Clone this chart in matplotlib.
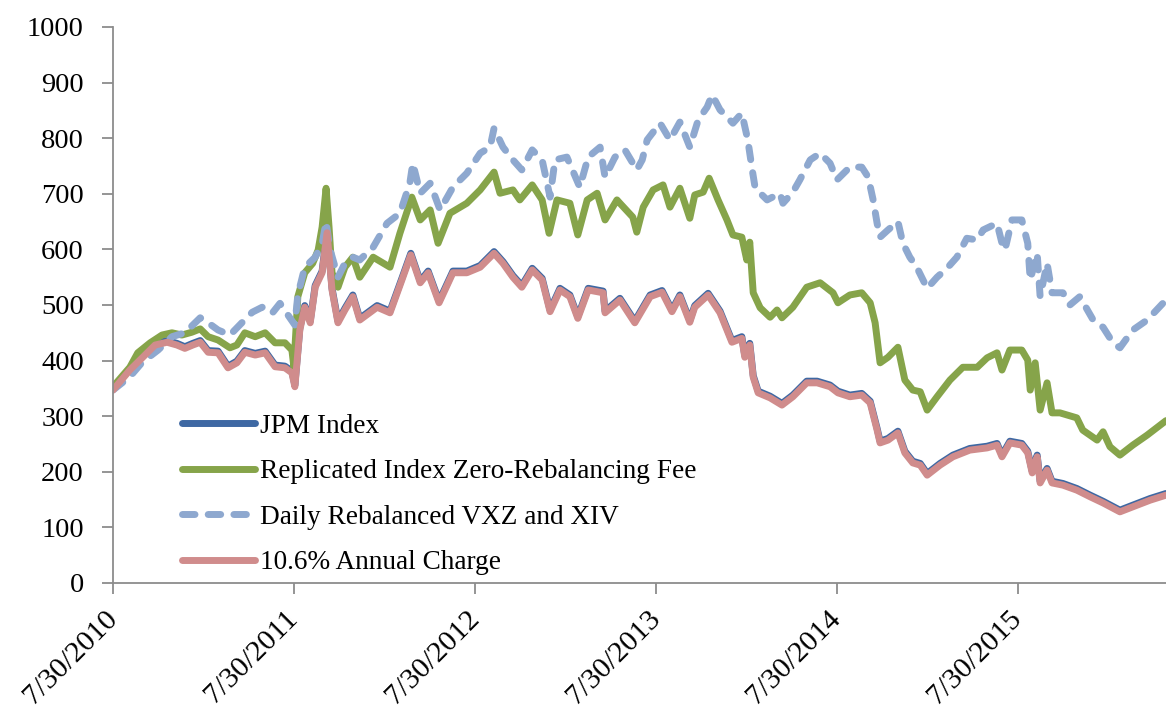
import matplotlib
matplotlib.use("Agg")
import matplotlib.pyplot as plt
import pandas as pd

plt.rcParams['font.family'] = ['Liberation Serif', 'DejaVu Serif']

start = pd.Timestamp('2010-07-30')

# days after 7/30/2010
green_days = [0, 34, 50, 75, 99, 119, 139, 159, 176, 192, 212, 236, 250, 266, 287, 307, 327, 347,
              361, 365, 373, 387, 403, 414, 422, 430, 436, 442, 454, 468, 484, 498, 525, 559, 579,
              603, 620, 640, 656, 680, 714, 741, 769, 781, 807, 821, 846, 866, 880, 896, 922, 938,
              957, 977, 993, 1017, 1023, 1049, 1057, 1070, 1090, 1110, 1124, 1144, 1164, 1174, 1191,
              1203, 1221, 1239, 1251, 1269, 1279, 1285, 1292, 1306, 1326, 1340, 1350, 1372, 1400,
              1427, 1453, 1463, 1487, 1511, 1528, 1538, 1548, 1564, 1584, 1598, 1614, 1629, 1643,
              1663, 1689, 1715, 1744, 1764, 1784, 1794, 1810, 1834, 1846, 1851, 1861, 1871, 1885,
              1895, 1911, 1945, 1957, 1986, 1998, 2012, 2032, 2058, 2087, 2125]
green_vals = [353, 388, 414, 432, 446, 450, 446, 451, 457, 443, 437, 423, 428, 450, 443, 450, 432, 432,
              419, 389, 515, 558, 575, 599, 640, 710, 640, 558, 532, 568, 586, 550, 586, 568, 629,
              694, 653, 671, 611, 665, 683, 707, 739, 701, 707, 689, 716, 689, 629, 689, 683, 626,
              689, 701, 653, 689, 683, 658, 631, 676, 707, 716, 676, 710, 656, 698, 703,
              728, 689, 653, 626, 622, 581, 613, 522, 495, 478, 491, 477, 496, 532,
              540, 522, 504, 518, 522, 504, 468, 396, 406, 424, 365, 347, 344, 311,
              335, 365, 388, 388, 405, 414, 383, 419, 419, 401, 347, 396, 311, 360,
              306, 306, 297, 275, 257, 272, 245, 230, 248, 266, 292]

charge_days = [0, 34, 59, 85, 109, 129, 145, 161, 176, 192, 212, 232, 250, 266, 287, 307, 327, 347,
               361, 367, 377, 387, 398, 408, 422, 432, 442, 454, 468, 484, 498, 533, 559, 583, 601,
               620, 636, 658, 686, 714, 741, 769, 787, 807, 825, 846, 866, 882, 902, 922, 938, 959,
               989, 993, 1023, 1053, 1084, 1108, 1128, 1144, 1164, 1174, 1201, 1225, 1249, 1269,
               1275, 1285, 1292, 1302, 1326, 1350, 1372, 1400, 1421, 1447, 1463, 1487, 1511, 1528,
               1542, 1548, 1564, 1584, 1598, 1614, 1629, 1643, 1669, 1695, 1729, 1764, 1784, 1794,
               1810, 1834, 1846, 1855, 1865, 1871, 1885, 1895, 1917, 1945, 1972, 1998, 2032, 2058,
               2093, 2125]
charge_vals = [347, 383, 405, 428, 433, 428, 422, 428, 433, 415, 414, 387, 396, 415, 410, 414, 389, 387,
               378, 353, 455, 496, 468, 532, 558, 630, 527, 468, 491, 515, 473, 496, 486, 545, 590,
               540, 558, 504, 558, 558, 568, 593, 575, 550, 532, 563, 545, 488, 527, 515, 476, 527,
               522, 486, 509, 468, 515, 523, 488, 515, 469, 496, 518, 486, 433, 440,
               406, 428, 370, 342, 333, 320, 335, 360, 360, 353, 342, 335, 338, 324,
               275, 252, 257, 270, 234, 216, 212, 194, 212, 227, 239, 243, 248, 227,
               252, 248, 234, 198, 227, 180, 203, 180, 176, 167, 155, 144, 128, 137,
               149, 158]

jpm_days = charge_days
jpm_vals = [349, 385, 408, 431, 436, 431, 425, 431, 436, 418, 417, 390, 399, 418, 413, 417, 392, 390,
            381, 356, 458, 499, 471, 535, 561, 633, 530, 471, 494, 518, 476, 499, 489, 548, 593,
            543, 561, 507, 561, 561, 571, 596, 578, 553, 535, 566, 548, 491, 530, 518, 479, 530,
            525, 489, 512, 471, 518, 526, 491, 518, 472, 499, 521, 489, 436, 443,
            409, 431, 373, 345, 336, 323, 338, 363, 363, 356, 345, 338, 341, 327,
            278, 255, 260, 273, 237, 219, 215, 197, 215, 230, 242, 246, 251, 230,
            255, 251, 237, 201, 230, 183, 206, 183, 179, 170, 158, 147, 131, 140,
            152, 161]

daily_days = [0, 34, 59, 91, 119, 145, 176, 192, 212, 236, 260, 281, 301, 321, 337, 353, 367, 373,
              387, 408, 422, 430, 438, 454, 468, 484, 498, 525, 553, 579, 599, 605, 620, 640, 660,
              686, 714, 741, 761, 769, 787, 807, 825, 846, 866, 882, 892, 916, 942, 959, 983, 993,
              1013, 1033, 1057, 1068, 1078, 1104, 1124, 1144, 1164, 1181, 1199, 1209, 1225, 1251,
              1269, 1281, 1290, 1296, 1320, 1346, 1352, 1372, 1386, 1407, 1427, 1447, 1461, 1487,
              1511, 1524, 1534, 1542, 1548, 1564, 1584, 1594, 1608, 1622, 1643, 1663, 1683, 1703,
              1723, 1744, 1756, 1784, 1794, 1800, 1814, 1834, 1846, 1851, 1865, 1871, 1885, 1895,
              1917, 1931, 1951, 1978, 1998, 2018, 2032, 2058, 2087, 2125]
daily_vals = [347, 371, 397, 419, 443, 450, 477, 468, 455, 446, 468, 487, 496, 485, 503, 482, 464, 518,
              568, 586, 610, 650, 600, 550, 575, 586, 581, 604, 647, 665, 719, 755, 701, 719, 671,
              712, 737, 773, 784, 818, 784, 761, 743, 779, 761, 694, 761, 766, 712, 766, 784, 730,
              766, 779, 743, 761, 797, 827, 797, 829, 784, 833, 856, 878, 851, 827,
              845, 797, 743, 710, 689, 701, 683, 703, 725, 761, 773, 755, 725, 748,
              748, 730, 689, 647, 622, 635, 650, 611, 586, 568, 530, 550, 566, 586,
              620, 617, 635, 647, 611, 599, 653, 653, 611, 545, 593, 515, 575, 522,
              522, 500, 515, 473, 460, 432, 423, 455, 473, 509]

end_day = 2125
tick_years = [2010, 2011, 2012, 2013, 2014, 2015]


def to_dates(days):
    return start + pd.to_timedelta(days, unit='D')


fig = plt.figure(figsize=(11.66, 7.16), dpi=100)
ax = fig.add_axes([113 / 1166, 1 - 583 / 716, 1 - 113 / 1166, 556 / 716])

lw = 5
ax.plot(to_dates(jpm_days), jpm_vals, color='#3E68A3', lw=lw, solid_joinstyle='round',
        solid_capstyle='round', label='JPM Index')
ax.plot(to_dates(green_days), green_vals, color='#86A44A', lw=lw, solid_joinstyle='round',
        solid_capstyle='round', label='Replicated Index Zero-Rebalancing Fee')
ax.plot(to_dates(daily_days), daily_vals, color='#8EA8CF', lw=lw, dashes=(1.8, 1.9),
        dash_capstyle='round', dash_joinstyle='round', label='Daily Rebalanced VXZ and XIV')
ax.plot(to_dates(charge_days), charge_vals, color='#D08C8C', lw=lw, solid_joinstyle='round',
        solid_capstyle='round', label='10.6% Annual Charge')

ax.set_ylim(0, 1000)
ax.set_yticks(range(0, 1001, 100))
ax.set_xlim(start, start + pd.Timedelta(days=end_day))
ticks = [pd.Timestamp(year=y, month=7, day=30) for y in tick_years]
ax.set_xticks(ticks)
ax.set_xticklabels([f'7/30/{y}' for y in tick_years])

for s in ['top', 'right']:
    ax.spines[s].set_visible(False)
for s in ['left', 'bottom']:
    ax.spines[s].set_color('#8C8C8C')
    ax.spines[s].set_linewidth(1.3)
ax.tick_params(axis='both', direction='out', length=8, width=1.3, color='#8C8C8C',
               labelsize=20.5, labelcolor='black')
ax.tick_params(axis='x', labelsize=21.5, pad=15)
ax.tick_params(axis='y', pad=13)
for lab in ax.get_xticklabels():
    lab.set_rotation(45)
    lab.set_ha('right')
    lab.set_va('center')
    lab.set_rotation_mode('anchor')

ax.legend(loc='lower left', bbox_to_anchor=(0.066, 0.014), frameon=False, fontsize=19.6,
          handlelength=2.65, handletextpad=0.2, labelspacing=0.75, borderpad=0, borderaxespad=0)

fig.savefig('out.png', dpi=100)
